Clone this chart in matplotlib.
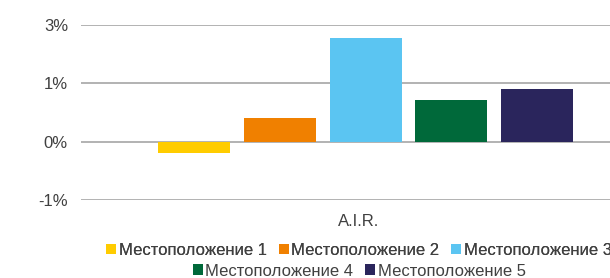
import matplotlib
matplotlib.use("Agg")
import matplotlib.pyplot as plt
from matplotlib.patches import Patch

category = "A.I.R."
series = ["Местоположение 1", "Местоположение 2", "Местоположение 3",
          "Местоположение 4", "Местоположение 5"]
values = [-0.245, 0.50, 2.21, 0.88, 1.12]
colors = ["#FFCC00", "#F08000", "#5BC5F2", "#00693A", "#2A255C"]
ytick_values = [-1.25, 0.0, 1.25, 2.5]
ytick_labels = ["-1%", "0%", "1%", "3%"]

plt.rcParams['font.family'] = ['Liberation Sans', 'DejaVu Sans']
text_color = "#404040"
grid_color = "#A6A6A6"

W, H = 610, 278
fig = plt.figure(figsize=(W / 100, H / 100), dpi=100)
ax = fig.add_axes([81 / W, (H - 200) / H, 556 / W, 175.3 / H])

step = 0.1543
width = 0.1295
shift = 0.0118
for i, (v, c) in enumerate(zip(values, colors)):
    ax.bar(0.5 + (i - 2) * step + shift, v, width=width, color=c, zorder=3)

ax.set_xlim(0, 1)
ax.set_ylim(ytick_values[0], ytick_values[-1])
ax.set_yticks(ytick_values)
ax.set_yticklabels(ytick_labels)
ax.set_xticks([0.5])
ax.set_xticklabels([category])
for s in ax.spines.values():
    s.set_visible(False)
ax.tick_params(axis='y', length=0, pad=9.4, labelsize=12, labelcolor=text_color)
ax.tick_params(axis='x', length=0, pad=10, labelsize=12, labelcolor=text_color)
ax.grid(axis='y', color=grid_color, linewidth=1.2, zorder=0)
ax.set_axisbelow(True)

handles = [Patch(facecolor=c, edgecolor='none') for c in colors]
cx = 359 / W
common = dict(frameon=False, fontsize=12, handlelength=0.6, handleheight=0.6,
              handletextpad=0.15, columnspacing=0.72, borderpad=0, borderaxespad=0,
              labelcolor=text_color)
leg1 = fig.legend(handles[:3], series[:3], ncol=3, loc='center',
                  bbox_to_anchor=(cx, (H - 250.5) / H), **common)
fig.add_artist(leg1)
leg2 = fig.legend(handles[3:], series[3:], ncol=2, loc='center',
                  bbox_to_anchor=(cx, (H - 271) / H), **common)

fig.savefig("out.png", dpi=100)
